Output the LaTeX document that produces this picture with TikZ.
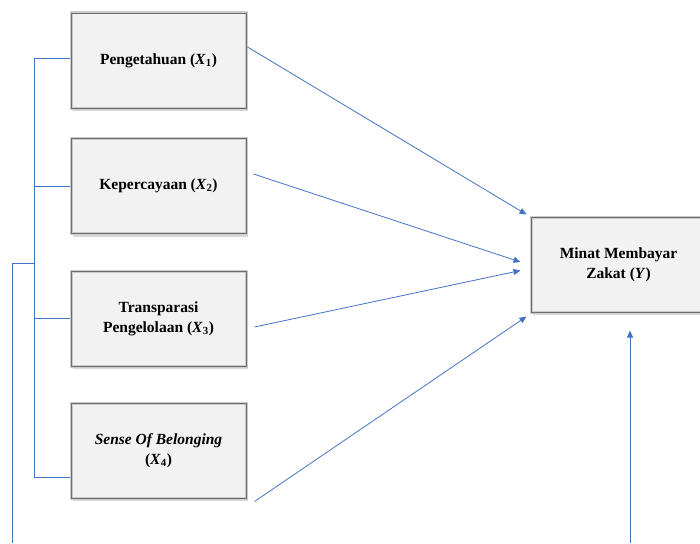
\documentclass[tikz,border=0pt]{standalone}
\usepackage{fontspec}
\setmainfont{Liberation Serif}
\usetikzlibrary{arrows.meta,shadows,calc}
\definecolor{linkblue}{HTML}{4472C4}
\definecolor{boxfill}{HTML}{F2F2F2}
\begin{document}
\begin{tikzpicture}[x=1pt,y=-1pt,
 varbox/.style={draw=gray!40, line width=3pt, fill=boxfill, minimum width=175pt, minimum height=95pt,
   inner sep=0pt, align=center, font=\fontsize{15.5}{20}\selectfont\bfseries,
   postaction={draw=gray!85!black, line width=0.8pt},
   drop shadow={opacity=0.3, shadow xshift=2pt, shadow yshift=-3pt}},
 link/.style={draw=linkblue, line width=0.8pt},
 arr/.style={link, -{Triangle[length=7pt,width=6pt]}}]
\path[clip] (0,0) rectangle (700,543);
\node[varbox] (x1) at (158.5,60.5) {Pengetahuan (\textit{X}\textsubscript{1})};
\node[varbox] (x2) at (158.5,186) {Kepercayaan (\textit{X}\textsubscript{2})};
\node[varbox] (x3) at (158.5,318.5) {Transparasi\\Pengelolaan (\textit{X}\textsubscript{3})};
\node[varbox] (x4) at (158.5,450.5) {\textit{Sense Of Belonging}\\(\textit{X}\textsubscript{4})};
\node[varbox] (y) at (618.5,264.5) {Minat Membayar\\Zakat (\textit{Y})};
% left bracket
\coordinate (bt) at (34,58);
\coordinate (b2) at (34,186);
\coordinate (b3) at (34,318.5);
\coordinate (bb) at (34,477);
\coordinate (jn) at (34,263);
\coordinate (lowend) at (12,543);
\draw[link] ($(x1.west)+(0,-2.5)$) -- (bt);
\draw[link] (x2.west) -- (b2);
\draw[link] (x3.west) -- (b3);
\draw[link] ($(x4.west)+(0,26.5)$) -- (bb);
\draw[link] (bt) -- (bb);
\draw[link] (jn) -| (lowend);
% right input
\coordinate (yin) at (630,543);
\draw[arr] (yin) -- ($(y.south)+(11.5,17)$);
% arrows into Y
\draw[arr] ($(x1.east)+(0,-13.5)$) -- ($(y.north west)+(-3,-1)$);
\draw[arr] ($(x2.east)+(6,-12)$) -- ($(y.west)+(-9,-2.5)$);
\draw[arr] ($(x3.east)+(7,8.5)$) -- ($(y.west)+(-9,6)$);
\draw[arr] ($(x4.south east)+(7,2)$) -- ($(y.south west)+(-3,3)$);
\end{tikzpicture}
\end{document}
